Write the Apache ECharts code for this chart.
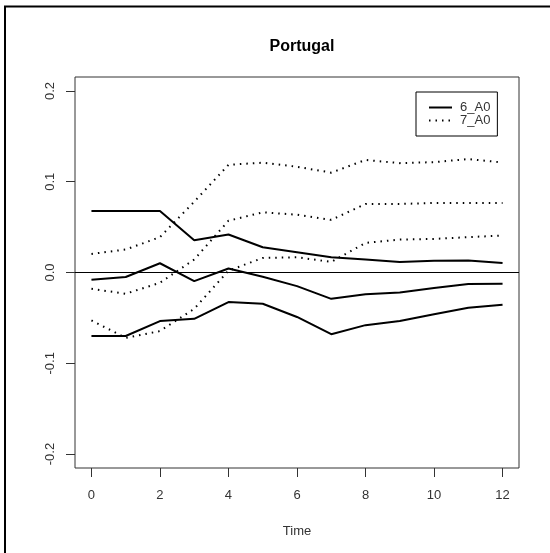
<!DOCTYPE html>
<html>
<head>
<meta charset="utf-8">
<style>
    html, body { margin: 0; padding: 0; background: #fff; }
    #chart { width: 550px; height: 553px; }
</style>
<script src="https://cdn.jsdelivr.net/npm/echarts@6/dist/echarts.min.js"></script>
</head>
<body>
<div id="chart"></div>
<script>
    // time steps
    var time = [0, 1, 2, 3, 4, 5, 6, 7, 8, 9, 10, 11, 12];
    // 6_A0 : upper, estimate, lower
    var a6Upper = [0.0678, 0.0678, 0.0678, 0.0355, 0.0418, 0.0278, 0.0223, 0.0168, 0.0143, 0.0115, 0.013, 0.0133, 0.0105];
    var a6Mid   = [-0.008, -0.005, 0.0102, -0.0095, 0.0044, -0.0047, -0.015, -0.029, -0.024, -0.022, -0.017, -0.0128, -0.0125];
    var a6Lower = [-0.070, -0.070, -0.0535, -0.051, -0.0326, -0.0344, -0.049, -0.068, -0.058, -0.0535, -0.046, -0.0388, -0.0355];
    // 7_A0 : upper, estimate, lower
    var a7Upper = [0.0205, 0.0253, 0.039, 0.078, 0.1187, 0.121, 0.1165, 0.110, 0.124, 0.1205, 0.1216, 0.125, 0.1212];
    var a7Mid   = [-0.018, -0.0234, -0.0113, 0.0143, 0.057, 0.0663, 0.0637, 0.058, 0.0755, 0.0755, 0.0766, 0.0766, 0.0766];
    var a7Lower = [-0.0528, -0.072, -0.0645, -0.040, 0.002, 0.016, 0.0168, 0.0117, 0.0326, 0.0363, 0.037, 0.039, 0.0407];
    // tick labels
    var xTicks = [0, 2, 4, 6, 8, 10, 12];
    var yTicks = [-0.2, -0.1, 0, 0.1, 0.2];

    function pairs(ys) {
        var out = [];
        for (var i = 0; i < time.length; i++) {
            out.push([time[i], ys[i]]);
        }
        return out;
    }

    var font = '"Liberation Sans", Arial, sans-serif';
    var solid = { color: '#000', width: 2, type: 'solid' };
    var dotted = { color: '#000', width: 2, type: [1.5, 5] };

    function line(name, ys, style) {
        return {
            name: name,
            type: 'line',
            data: pairs(ys),
            symbol: 'none',
            showSymbol: false,
            silent: true,
            itemStyle: { color: '#000' },
            lineStyle: style
        };
    }

    var series = [
        line('6_A0', a6Upper, solid),
        line('6_A0', a6Mid, solid),
        line('6_A0', a6Lower, solid),
        line('7_A0', a7Upper, dotted),
        line('7_A0', a7Mid, dotted),
        line('7_A0', a7Lower, dotted)
    ];
    // horizontal reference line at zero
    series[0].markLine = {
        silent: true,
        symbol: 'none',
        label: { show: false },
        lineStyle: { color: '#000', width: 1, type: 'solid' },
        data: [{ yAxis: 0 }]
    };

    var chart = echarts.init(document.getElementById('chart'));
    var option = {
        animation: false,
        backgroundColor: '#fff',
        title: {
            text: 'Portugal',
            left: 297,
            top: 34,
            textAlign: 'center',
            textStyle: { fontFamily: font, fontSize: 16, fontWeight: 'bold', color: '#000' }
        },
        legend: {
            orient: 'vertical',
            left: 416,
            top: 92,
            data: ['6_A0', '7_A0'],
            itemWidth: 23,
            itemHeight: 14,
            itemGap: 0,
            padding: [9, 7, 9, 12],
            borderColor: '#000',
            borderWidth: 1,
            selectedMode: false,
            itemStyle: { opacity: 0 },
            textStyle: { fontFamily: font, fontSize: 13, color: '#333', padding: [0, 0, 0, 3] }
        },
        grid: {
            left: 75,
            right: 31,
            top: 77,
            bottom: 85,
            show: true,
            borderColor: '#333',
            borderWidth: 1,
            backgroundColor: 'transparent'
        },
        xAxis: {
            type: 'value',
            min: -0.48,
            max: 12.48,
            name: 'Time',
            nameLocation: 'middle',
            nameGap: 57,
            nameTextStyle: { fontFamily: font, fontSize: 13, color: '#333' },
            axisLine: { show: false, onZero: false },
            splitLine: { show: false },
            axisTick: { show: true, inside: false, length: 9, customValues: xTicks, lineStyle: { color: '#333' } },
            axisLabel: {
                customValues: xTicks,
                margin: 21,
                fontFamily: font,
                fontSize: 13,
                color: '#333'
            }
        },
        yAxis: {
            type: 'value',
            min: -0.2154,
            max: 0.2154,
            axisLine: { show: false, onZero: false },
            splitLine: { show: false },
            axisTick: { show: true, inside: false, length: 9, customValues: yTicks, lineStyle: { color: '#333' } },
            axisLabel: {
                customValues: yTicks,
                rotate: 90,
                margin: 18,
                fontFamily: font,
                fontSize: 13,
                color: '#333',
                formatter: function (v) { return v.toFixed(1); }
            }
        },
        graphic: [
            { type: 'line', shape: { x1: 4, y1: 6.5, x2: 550, y2: 6.5 }, style: { stroke: '#000', lineWidth: 2 } },
            { type: 'line', shape: { x1: 5, y1: 6, x2: 5, y2: 553 }, style: { stroke: '#000', lineWidth: 2 } }
        ],
        series: series
    };
    chart.setOption(option);
</script>
</body>
</html>
